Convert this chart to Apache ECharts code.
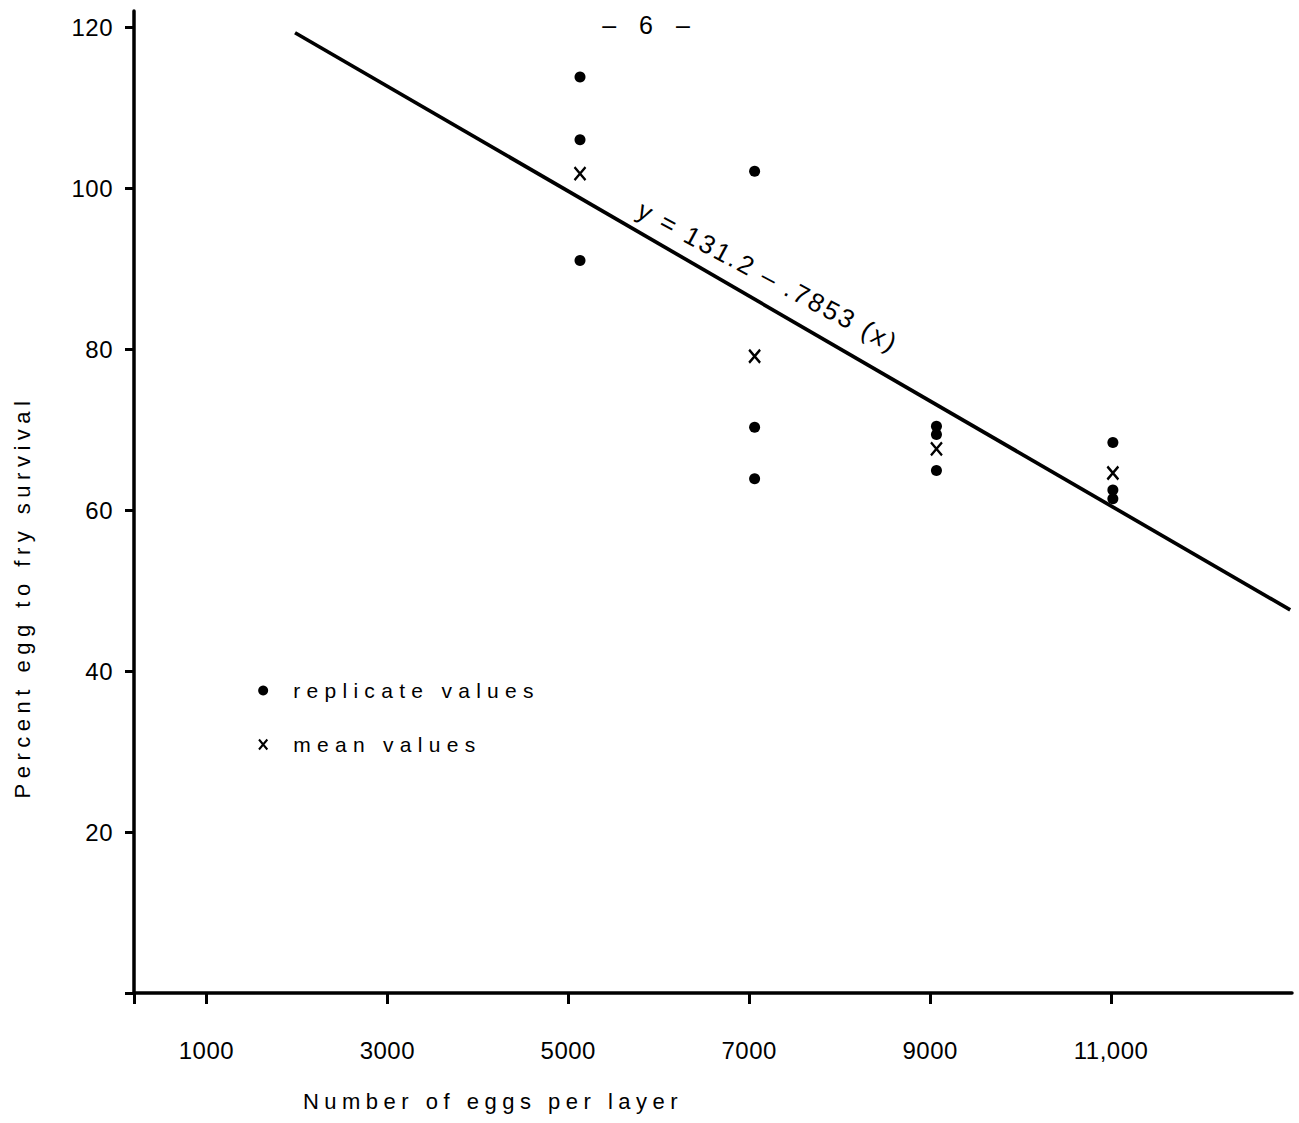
<!DOCTYPE html>
<html>
<head>
<meta charset="utf-8">
<script src="https://cdn.jsdelivr.net/npm/echarts@6/dist/echarts.min.js"></script>
<style>
html, body { margin: 0; padding: 0; background: #fff; }
#chart { width: 1299px; height: 1123px; }
#chart text[style*="24px"] { letter-spacing: 0.5px; }
#chart text[style*="22px"] { letter-spacing: 5.5px; }
#chart text[style*="21px"] { letter-spacing: 6.3px; }
#chart text[style*="26px"] { letter-spacing: 2.5px; }
#chart text[style*="25px"] { letter-spacing: 8px; }
</style>
</head>
<body>
<div id="chart"></div>
<script>
// ---- data ----
const xTickValues = [1000, 3000, 5000, 7000, 9000, 11000];
const xTickLabels = ['1000', '3000', '5000', '7000', '9000', '11,000'];
const yTickValues = [20, 40, 60, 80, 100, 120];

const replicateX = [5130, 5130, 5130, 7060, 7060, 7060, 9070, 9070, 9070, 11020, 11020, 11020];
const replicateY = [113.8, 106.0, 91.0, 102.1, 70.3, 63.9, 70.4, 69.4, 64.9, 68.4, 62.5, 61.4];

const meanX = [5130, 7060, 9070, 11020];
const meanY = [101.8, 79.1, 67.6, 64.6];

const fitX = [1980, 12980];
const fitY = [119.3, 47.6];

const equationText = 'y = 131.2 \u2013 .7853 (x)';
const pageNumber = '\u2013 6 \u2013';

// ---- layout / style ----
const FONT = '"Liberation Sans", Arial, Helvetica, sans-serif';
const X_PATH = 'path://M0,0L10,12M10,0L0,12';
const eqAnchor = [7210, 89.0];

const zip = (xs, ys) => xs.map((x, i) => [x, ys[i]]);

const chart = echarts.init(document.getElementById('chart'), null, { renderer: 'svg' });

const option = {
  backgroundColor: '#ffffff',
  animation: false,
  textStyle: { fontFamily: FONT, color: '#000' },
  grid: { left: 134, right: 7, top: 11, bottom: 130, containLabel: false },
  legend: {
    orient: 'vertical',
    left: 253,
    top: 675,
    itemWidth: 50,
    itemHeight: 10,
    itemGap: 33,
    selectedMode: false,
    textStyle: { fontSize: 21, color: '#000', fontFamily: FONT },
    data: [
      { name: 'replicate values', icon: 'circle' },
      { name: 'mean values', icon: X_PATH, itemStyle: { color: 'rgba(0,0,0,0)', borderColor: '#000', borderWidth: 2 } }
    ]
  },
  xAxis: {
    type: 'value',
    min: 200,
    max: 13000,
    name: 'Number of eggs per layer',
    nameLocation: 'middle',
    nameGap: 97,
    nameTextStyle: { fontSize: 22, color: '#000', fontFamily: FONT, padding: [0, 440, 0, 0] },
    axisLine: { show: true, onZero: false, lineStyle: { color: '#000', width: 3.5 } },
    axisTick: { show: true, length: 11, lineStyle: { color: '#000', width: 3 }, customValues: [200].concat(xTickValues) },
    axisLabel: {
      customValues: xTickValues,
      fontSize: 24,
      color: '#000',
      fontFamily: FONT,
      margin: 45,
      formatter: v => xTickLabels[xTickValues.indexOf(v)] || ''
    },
    splitLine: { show: false }
  },
  yAxis: {
    type: 'value',
    min: 0,
    max: 122,
    name: 'Percent egg to fry survival',
    nameLocation: 'middle',
    nameGap: 101,
    nameTextStyle: { fontSize: 22, color: '#000', fontFamily: FONT, padding: [0, 190, 0, 0] },
    axisLine: { show: true, onZero: false, lineStyle: { color: '#000', width: 3.5 } },
    axisTick: { show: true, length: 9, lineStyle: { color: '#000', width: 3 }, customValues: [0].concat(yTickValues) },
    axisLabel: {
      customValues: yTickValues,
      fontSize: 24,
      color: '#000',
      fontFamily: FONT,
      margin: 21
    },
    splitLine: { show: false }
  },
  series: [
    {
      name: 'regression',
      type: 'line',
      data: zip(fitX, fitY),
      showSymbol: false,
      symbol: 'none',
      lineStyle: { color: '#000', width: 3.7 },
      z: 2
    },
    {
      name: 'replicate values',
      type: 'scatter',
      data: zip(replicateX, replicateY),
      symbol: 'circle',
      symbolSize: 11,
      itemStyle: { color: '#000', opacity: 1 },
      z: 3
    },
    {
      name: 'mean values',
      type: 'scatter',
      data: zip(meanX, meanY),
      symbol: X_PATH,
      symbolSize: [11, 13],
      itemStyle: { color: 'rgba(0,0,0,0)', borderColor: '#000', borderWidth: 2.5, opacity: 1 },
      z: 3
    }
  ]
};

chart.setOption(option);

const eqPx = chart.convertToPixel({ gridIndex: 0 }, eqAnchor);

chart.setOption({
  graphic: [
    {
      type: 'text',
      x: eqPx[0],
      y: eqPx[1],
      rotation: -0.49,
      style: {
        text: equationText,
        fontSize: 26,
        fontFamily: FONT,
        fill: '#000',
        align: 'center',
        verticalAlign: 'middle',
        textAlign: 'center',
        textVerticalAlign: 'middle'
      }
    },
    {
      type: 'text',
      x: 650,
      y: 25,
      style: {
        text: pageNumber,
        fontSize: 25,
        fontFamily: FONT,
        fill: '#000',
        align: 'center',
        verticalAlign: 'middle',
        textAlign: 'center',
        textVerticalAlign: 'middle'
      }
    }
  ]
});
</script>
</body>
</html>
